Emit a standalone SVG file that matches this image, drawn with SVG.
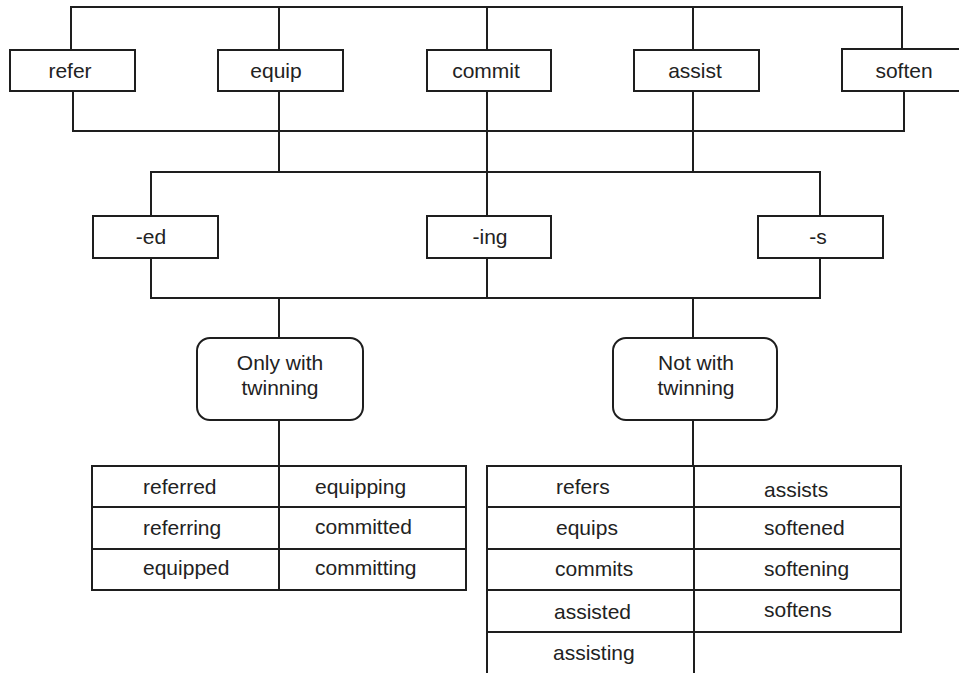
<svg xmlns="http://www.w3.org/2000/svg" width="959" height="673" viewBox="0 0 959 673">
  <style>
    .box { fill: #ffffff; stroke: #1e1e1e; stroke-width: 2; }
    .wire { fill: none; stroke: #1e1e1e; stroke-width: 2; }
    .grid { fill: none; stroke: #1e1e1e; stroke-width: 2; }
    text { font-family: "Liberation Sans", Arial, sans-serif; font-size: 21px; fill: #222222; }
    .c { text-anchor: middle; }
  </style>
  <rect width="959" height="673" fill="#ffffff"/>

  <!-- connectors -->
  <g id="connectors">
    <path class="wire" d="M71 50 V7 H902 V49"/>
    <path class="wire" d="M279 7 V50 M487 7 V50 M693 7 V50"/>
    <path class="wire" d="M73 91 V131 H904 V92"/>
    <path class="wire" d="M279 91 V172 M487 91 V216 M693 91 V172"/>
    <path class="wire" d="M151 216 V172 H820 V216"/>
    <path class="wire" d="M151 258 V298 H820 V258"/>
    <path class="wire" d="M487 258 V298"/>
    <path class="wire" d="M279 298 V338 M693 298 V338"/>
    <path class="wire" d="M279 420 V466 M693 420 V466"/>
  </g>

  <!-- base verbs -->
  <g id="refer"><rect class="box" x="10" y="50" width="125" height="41"/><text class="c" x="70" y="78">refer</text></g>
  <g id="equip"><rect class="box" x="218" y="50" width="125" height="41"/><text class="c" x="276" y="78">equip</text></g>
  <g id="commit"><rect class="box" x="427" y="50" width="124" height="41"/><text class="c" x="486" y="78">commit</text></g>
  <g id="assist"><rect class="box" x="634" y="50" width="125" height="41"/><text class="c" x="695" y="78">assist</text></g>
  <g id="soften"><rect class="box" x="842" y="49" width="125" height="42"/><text class="c" x="904" y="78">soften</text></g>

  <!-- suffixes -->
  <g id="suffix-ed"><rect class="box" x="93" y="216" width="125" height="42"/><text class="c" x="151" y="244">-ed</text></g>
  <g id="suffix-ing"><rect class="box" x="427" y="216" width="124" height="42"/><text class="c" x="490" y="244">-ing</text></g>
  <g id="suffix-s"><rect class="box" x="758" y="216" width="125" height="42"/><text class="c" x="818" y="244">-s</text></g>

  <!-- twinning categories -->
  <g id="only-twinning">
    <rect class="box" x="197" y="338" width="166" height="82" rx="13"/>
    <text class="c" x="280" y="370">Only with</text>
    <text class="c" x="280" y="395">twinning</text>
  </g>
  <g id="not-twinning">
    <rect class="box" x="613" y="338" width="164" height="82" rx="13"/>
    <text class="c" x="696" y="370">Not with</text>
    <text class="c" x="696" y="395">twinning</text>
  </g>

  <!-- forms with twinning -->
  <g id="table-twinning">
    <rect class="grid" x="92" y="466" width="374" height="124"/>
    <path class="grid" d="M92 507 H466 M92 549 H466 M279 466 V590"/>
    <text x="143" y="494">referred</text>
    <text x="143" y="535">referring</text>
    <text x="143" y="575">equipped</text>
    <text x="315" y="494">equipping</text>
    <text x="315" y="534">committed</text>
    <text x="315" y="575">committing</text>
  </g>

  <!-- forms without twinning -->
  <g id="table-plain">
    <path class="grid" d="M487 680 V466 H901 V632 H487"/>
    <path class="grid" d="M694 466 V680"/>
    <path class="grid" d="M487 507 H901 M487 549 H901 M487 590 H901"/>
    <text x="556" y="494">refers</text>
    <text x="556" y="535">equips</text>
    <text x="555" y="576">commits</text>
    <text x="554" y="619">assisted</text>
    <text x="553" y="660">assisting</text>
    <text x="764" y="497">assists</text>
    <text x="764" y="535">softened</text>
    <text x="764" y="576">softening</text>
    <text x="764" y="617">softens</text>
  </g>
</svg>
